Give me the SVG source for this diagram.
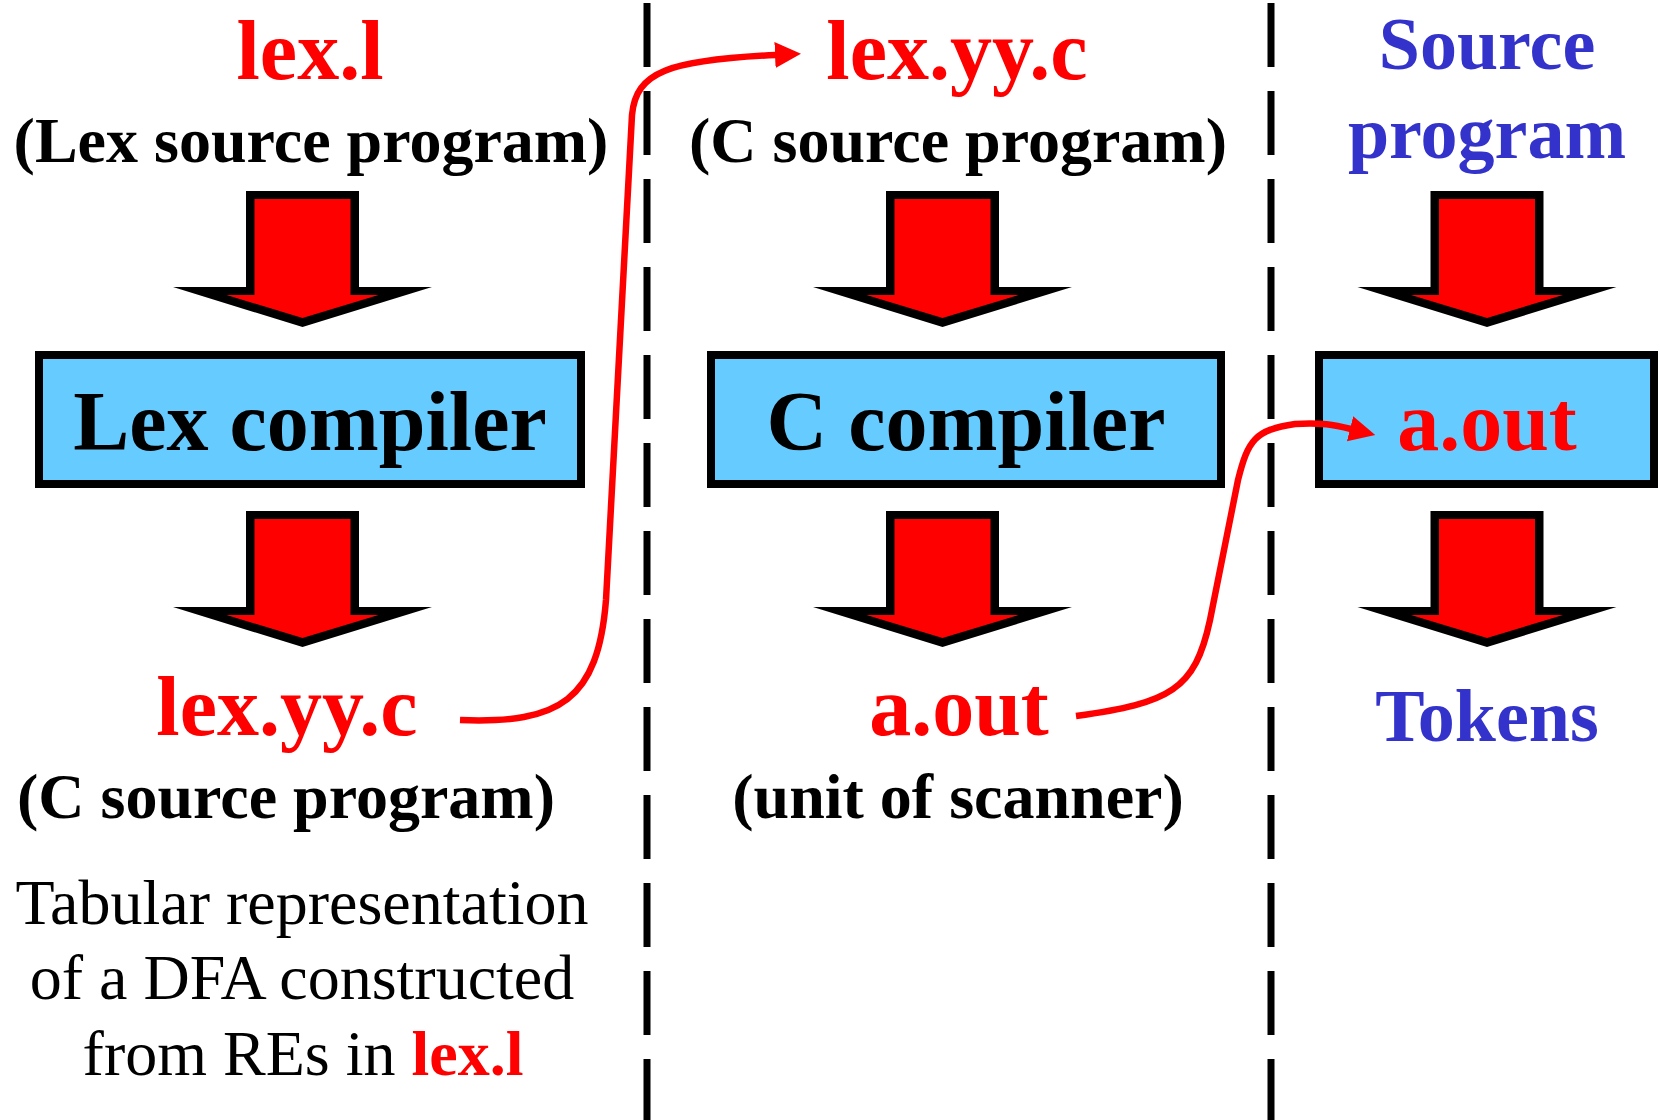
<svg xmlns="http://www.w3.org/2000/svg" xmlns:xlink="http://www.w3.org/1999/xlink" width="1660" height="1120" viewBox="0 0 1660 1120">
<style>
text{font-family:"Liberation Serif","Times New Roman",serif;text-anchor:middle}
.b{font-weight:bold}
.big{font-size:84px}
.sub{font-size:64px}
.red{fill:#FF0000}
.blk{fill:#000000}
.blue{fill:#3333CC;font-size:74px}
.norm{font-size:64px;font-weight:normal}
.box{fill:#66CCFF;stroke:#000;stroke-width:8}
.sep{stroke:#000;stroke-width:7;stroke-dasharray:64 24;fill:none}
.conn{fill:none;stroke:#FF0000;stroke-width:6.5;stroke-linecap:butt}
</style>
<defs>
<g id="barrow">
<polygon points="-56.5,0 56.5,0 56.5,96 129.5,96 0,136 -129.5,96 -56.5,96" fill="#000"/>
<polygon points="-48,8 48,8 48,104 76,104 0,127 -76,104 -48,104" fill="#FF0000"/>
</g>
<marker id="ah" markerUnits="userSpaceOnUse" viewBox="0 -14 28 28" markerWidth="28" markerHeight="28" refX="1" refY="0" orient="auto">
<polygon points="0,-13 26,0 0,13" fill="#FF0000"/>
</marker>
</defs>
<rect width="1660" height="1120" fill="#fff"/>
<g id="separators">
<line class="sep" x1="647" y1="3" x2="647" y2="1120"/>
<line class="sep" x1="1271" y1="3" x2="1271" y2="1120"/>
</g>
<g id="lex-l">
<text class="b big red" x="310" y="79">lex.l</text>
<text class="b sub blk" x="311" y="162">(Lex source program)</text>
</g>
<use id="arrow-1a" xlink:href="#barrow" transform="translate(302.5,191)"/>
<g id="lex-compiler">
<rect class="box" x="39" y="355" width="542" height="129"/>
<text class="b big blk" x="310" y="450">Lex compiler</text>
</g>
<use id="arrow-1b" xlink:href="#barrow" transform="translate(302.5,511)"/>
<g id="lex-yy-c-out">
<text class="b big red" x="287" y="735">lex.yy.c</text>
<text class="b sub blk" x="286" y="818">(C source program)</text>
</g>
<g id="note">
<text class="norm blk" x="302" y="924">Tabular representation</text>
<text class="norm blk" x="302" y="999">of a DFA constructed</text>
<text class="norm blk" x="303" y="1075">from REs in <tspan class="b red">lex.l</tspan></text>
</g>
<g id="lex-yy-c-in">
<text class="b big red" x="957" y="79">lex.yy.c</text>
<text class="b sub blk" x="958" y="162">(C source program)</text>
</g>
<use id="arrow-2a" xlink:href="#barrow" transform="translate(942.5,191)"/>
<g id="c-compiler">
<rect class="box" x="711" y="355" width="510" height="129"/>
<text class="b big blk" x="966" y="450">C compiler</text>
</g>
<use id="arrow-2b" xlink:href="#barrow" transform="translate(942.5,511)"/>
<g id="a-out-out">
<text class="b big red" x="959" y="735">a.out</text>
<text class="b sub blk" x="958" y="818">(unit of scanner)</text>
</g>
<g id="source-program">
<text class="b blue" x="1487" y="69">Source</text>
<text class="b blue" x="1487" y="158">program</text>
</g>
<use id="arrow-3a" xlink:href="#barrow" transform="translate(1487,191)"/>
<g id="a-out-box">
<rect class="box" x="1319" y="355" width="335" height="129"/>
<text class="b big red" x="1487" y="450">a.out</text>
</g>
<use id="arrow-3b" xlink:href="#barrow" transform="translate(1487,511)"/>
<g id="tokens">
<text class="b blue" x="1487" y="741">Tokens</text>
</g>
<g id="connectors">
<path class="conn" marker-end="url(#ah)" d="M460,720 C560,724 598,700 606,600 L632,115 C636,72 668,60 776,55"/>
<path class="conn" marker-end="url(#ah)" d="M1076,716 C1170,703 1195,690 1210,620 L1238,480 C1248,440 1255,430 1295,424 C1320,422 1335,425 1351,429"/>
</g>
</svg>
